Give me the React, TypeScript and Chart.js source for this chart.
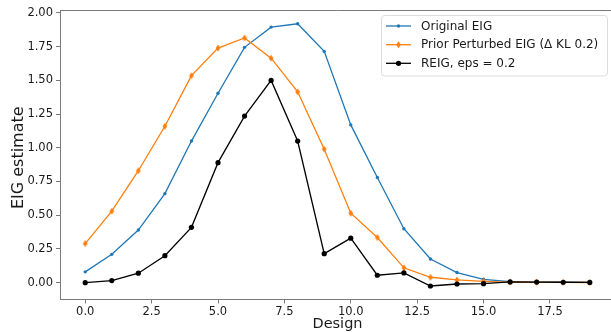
import React, { useEffect, useRef } from "react";
import { Chart, registerables } from "chart.js";

Chart.register(...registerables);

const designs = [0, 1, 2, 3, 4, 5, 6, 7, 8, 9, 10, 11, 12, 13, 14, 15, 16, 17, 18, 19];
const originalEIG = [0.08, 0.21, 0.39, 0.66, 1.05, 1.405, 1.745, 1.895, 1.92, 1.715, 1.17, 0.78, 0.40, 0.175, 0.075, 0.025, 0.008, 0.006, 0.003, 0.002];
const perturbedEIG = [0.29, 0.53, 0.83, 1.16, 1.535, 1.74, 1.815, 1.665, 1.415, 0.99, 0.515, 0.335, 0.11, 0.04, 0.02, 0.01, 0.004, 0.003, 0.002, 0.001];
const reig = [0.0, 0.015, 0.07, 0.2, 0.41, 0.89, 1.235, 1.5, 1.05, 0.215, 0.33, 0.055, 0.072, -0.025, -0.01, -0.008, 0.005, 0.004, 0.003, 0.002];
const xTicks = [0, 2.5, 5, 7.5, 10, 12.5, 15, 17.5];
const yTicks = [0, 0.25, 0.5, 0.75, 1.0, 1.25, 1.5, 1.75, 2.0];
const seriesLabels = ["Original EIG", "Prior Perturbed EIG (\u0394 KL 0.2)", "REIG, eps = 0.2"];
const seriesColors = ["#1f77b4", "#ff7f0e", "#000000"];

const FONT = "'DejaVu Sans', sans-serif";
const SPINE = "#7a7a7a";

function makeDiamond(color: string): HTMLCanvasElement {
  const c = document.createElement("canvas");
  c.width = 6;
  c.height = 8;
  const g = c.getContext("2d")!;
  g.fillStyle = color;
  g.beginPath();
  g.moveTo(3, 0.5);
  g.lineTo(5.4, 4);
  g.lineTo(3, 7.5);
  g.lineTo(0.6, 4);
  g.closePath();
  g.fill();
  return c;
}

function drawMarker(ctx: CanvasRenderingContext2D, i: number, x: number, y: number) {
  ctx.fillStyle = seriesColors[i];
  if (i === 1) {
    ctx.beginPath();
    ctx.moveTo(x, y - 3.5);
    ctx.lineTo(x + 2.4, y);
    ctx.lineTo(x, y + 3.5);
    ctx.lineTo(x - 2.4, y);
    ctx.closePath();
    ctx.fill();
  } else {
    ctx.beginPath();
    ctx.arc(x, y, i === 0 ? 1.7 : 2.6, 0, Math.PI * 2);
    ctx.fill();
  }
}

const decorPlugin = {
  id: "decor",
  afterDraw(chart: any) {
    const ctx: CanvasRenderingContext2D = chart.ctx;
    const a = chart.chartArea;
    ctx.save();
    // top and right spines
    ctx.strokeStyle = SPINE;
    ctx.lineWidth = 1;
    ctx.beginPath();
    ctx.moveTo(a.left, a.top + 0.5);
    ctx.lineTo(a.right, a.top + 0.5);
    ctx.moveTo(a.right - 0.5, a.top);
    ctx.lineTo(a.right - 0.5, a.bottom);
    ctx.stroke();

    // axis titles
    ctx.fillStyle = "#1a1a1a";
    ctx.font = `14.5px ${FONT}`;
    ctx.textAlign = "center";
    ctx.textBaseline = "alphabetic";
    ctx.fillText("Design", (a.left + a.right) / 2, 328);
    ctx.save();
    ctx.translate(19, (a.top + a.bottom) / 2 + 3);
    ctx.rotate(-Math.PI / 2);
    ctx.font = `16px ${FONT}`;
    ctx.textBaseline = "middle";
    ctx.fillText("EIG estimate", 0, 0);
    ctx.restore();

    // legend
    const bx = 381.5, by = 15.5, bw = 226, bh = 60.5, r = 3;
    ctx.beginPath();
    ctx.moveTo(bx + r, by);
    ctx.lineTo(bx + bw - r, by);
    ctx.arcTo(bx + bw, by, bx + bw, by + r, r);
    ctx.lineTo(bx + bw, by + bh - r);
    ctx.arcTo(bx + bw, by + bh, bx + bw - r, by + bh, r);
    ctx.lineTo(bx + r, by + bh);
    ctx.arcTo(bx, by + bh, bx, by + bh - r, r);
    ctx.lineTo(bx, by + r);
    ctx.arcTo(bx, by, bx + r, by, r);
    ctx.closePath();
    ctx.fillStyle = "rgba(255,255,255,0.8)";
    ctx.fill();
    ctx.strokeStyle = "#dcdcdc";
    ctx.stroke();

    const rows = [26, 44.7, 63.3];
    ctx.font = `12px ${FONT}`;
    ctx.textAlign = "left";
    ctx.textBaseline = "middle";
    for (let i = 0; i < 3; i++) {
      const y = rows[i];
      ctx.strokeStyle = seriesColors[i];
      ctx.lineWidth = 1.3;
      ctx.beginPath();
      ctx.moveTo(386, y);
      ctx.lineTo(411, y);
      ctx.stroke();
      drawMarker(ctx, i, 398.5, y);
      ctx.fillStyle = "#1a1a1a";
      ctx.fillText(seriesLabels[i], 421, y + 0.5);
    }
    ctx.restore();
  },
};

export default function App() {
  const ref = useRef<HTMLCanvasElement | null>(null);
  useEffect(() => {
    if (!ref.current) return;
    const diamond = makeDiamond(seriesColors[1]);
    const mk = (vals: number[]) => designs.map((d, i) => ({ x: d, y: vals[i] }));
    const chart = new Chart(ref.current, {
      type: "line",
      data: {
        datasets: [
          {
            label: seriesLabels[0],
            data: mk(originalEIG),
            borderColor: seriesColors[0],
            backgroundColor: seriesColors[0],
            borderWidth: 1.3,
            pointRadius: 1.7,
            pointBorderWidth: 0,
            pointStyle: "circle",
            order: 3,
          },
          {
            label: seriesLabels[1],
            data: mk(perturbedEIG),
            borderColor: seriesColors[1],
            backgroundColor: seriesColors[1],
            borderWidth: 1.3,
            pointRadius: 3,
            pointBorderWidth: 0,
            pointStyle: diamond as any,
            order: 2,
          },
          {
            label: seriesLabels[2],
            data: mk(reig),
            borderColor: seriesColors[2],
            backgroundColor: seriesColors[2],
            borderWidth: 1.3,
            pointRadius: 2.6,
            pointBorderWidth: 0,
            pointStyle: "circle",
            order: 1,
          },
        ],
      },
      options: {
        responsive: false,
        animation: false,
        layout: { padding: { top: 10, right: 10, left: 0, bottom: 0 } },
        plugins: { legend: { display: false }, tooltip: { enabled: false } },
        elements: { line: { tension: 0 } },
        scales: {
          x: {
            type: "linear",
            min: -0.95,
            max: 19.95,
            afterBuildTicks: (s: any) => {
              s.ticks = xTicks.map((v) => ({ value: v }));
            },
            afterFit: (s: any) => {
              s.height = 32.5;
            },
            ticks: {
              callback: (v: any) => Number(v).toFixed(1),
              font: { family: FONT, size: 11.5 },
              color: "#1a1a1a",
              padding: 2,
              maxRotation: 0,
              autoSkip: false,
            },
            grid: { drawOnChartArea: false, drawTicks: true, tickLength: 4, color: SPINE },
            border: { display: true, color: SPINE, width: 1 },
          },
          y: {
            type: "linear",
            min: -0.125,
            max: 2.022,
            afterBuildTicks: (s: any) => {
              s.ticks = yTicks.map((v) => ({ value: v }));
            },
            afterFit: (s: any) => {
              s.width = 60;
            },
            ticks: {
              callback: (v: any) => Number(v).toFixed(2),
              font: { family: FONT, size: 11.5 },
              color: "#1a1a1a",
              padding: 3,
              autoSkip: false,
            },
            grid: { drawOnChartArea: false, drawTicks: true, tickLength: 4, color: SPINE },
            border: { display: true, color: SPINE, width: 1 },
          },
        },
      },
      plugins: [decorPlugin],
    });
    return () => chart.destroy();
  }, []);
  return (
    <div style={{ position: "absolute", left: 0, top: 0, width: 611, height: 332, overflow: "hidden", background: "#fff" }}>
      <canvas ref={ref} width={625} height={332} style={{ display: "block" }} />
    </div>
  );
}
